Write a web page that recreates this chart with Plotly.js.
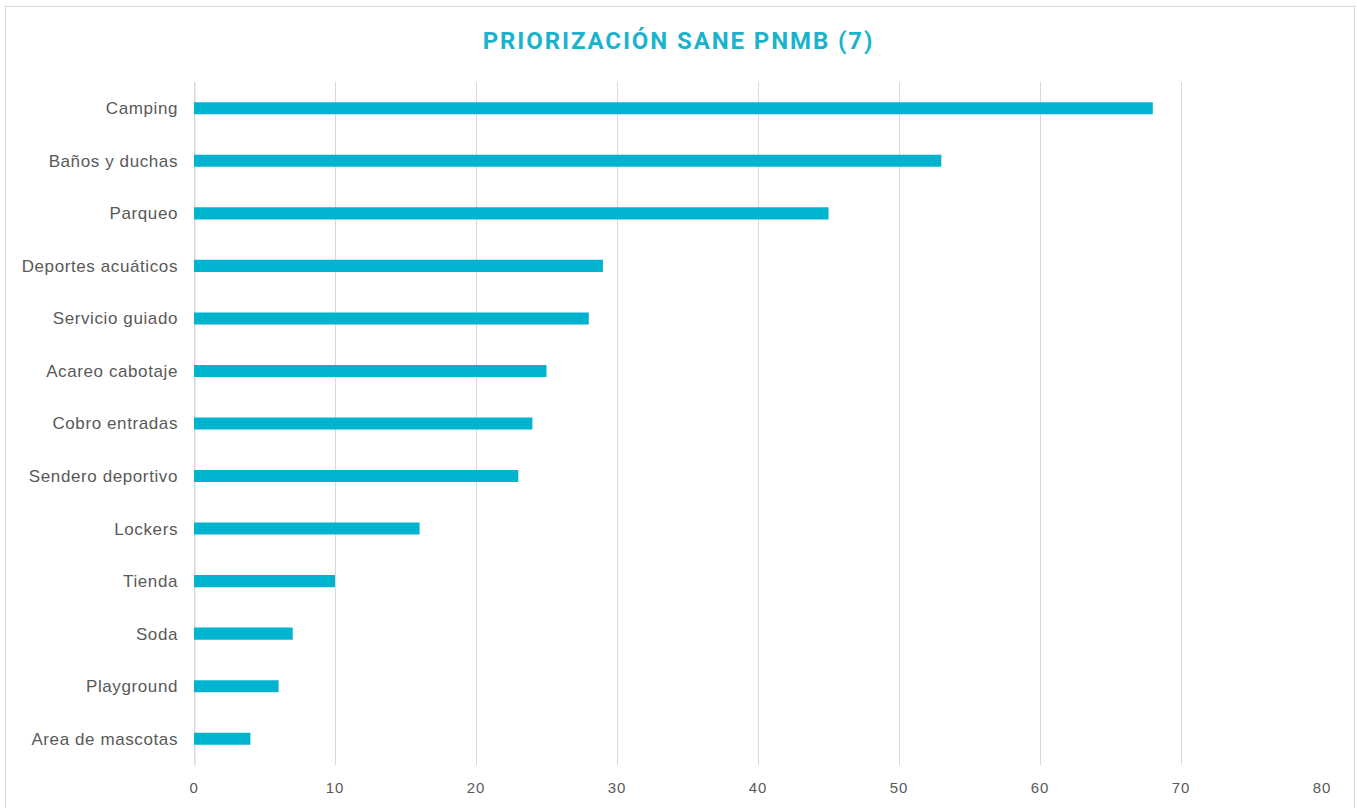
<!DOCTYPE html>
<html>
<head>
<meta charset="utf-8">
<script src="https://cdn.plot.ly/plotly-3.0.1.min.js"></script>
<style>
  html, body { margin: 0; padding: 0; background: #fff; }
  #chart { width: 1357px; height: 808px; }
  #frame { position: absolute; left: 5px; top: 6px; width: 1348px; height: 820px; border: 1px solid #d9d9d9; pointer-events: none; }
  .gtitle { letter-spacing: 1.9px; }
  .ytick text { letter-spacing: 0.6px; }
  .xtick text { letter-spacing: 0.8px; }
</style>
</head>
<body>
<div id="chart"></div>
<div id="frame"></div>
<script>
const categories = [
  "Camping", "Baños y duchas", "Parqueo", "Deportes acuáticos", "Servicio guiado",
  "Acareo cabotaje", "Cobro entradas", "Sendero deportivo", "Lockers", "Tienda",
  "Soda", "Playground", "Area de mascotas"
];
const values = [68, 53, 45, 29, 28, 25, 24, 23, 16, 10, 7, 6, 4];
const xTicks = [0, 10, 20, 30, 40, 50, 60, 70, 80];

const trace = {
  type: "bar",
  orientation: "h",
  x: values,
  y: categories,
  marker: { color: "#00B4CF" },
  hoverinfo: "x+y"
};

const layout = {
  width: 1357,
  height: 808,
  paper_bgcolor: "#ffffff",
  plot_bgcolor: "#ffffff",
  margin: { l: 194, r: 35, t: 82, b: 43 },
  bargap: 0.77,
  showlegend: false,
  title: {
    text: "<b>PRIORIZACIÓN SANE PNMB (7)</b>",
    x: 0.5, xanchor: "center",
    y: 0.95, yanchor: "middle",
    font: { family: "Liberation Sans Narrow, Roboto, Arial Narrow, sans-serif", size: 24, color: "#1AB3CE" }
  },
  xaxis: {
    range: [0, 80],
    tickvals: xTicks,
    ticktext: xTicks.map(String),
    showgrid: true,
    gridcolor: "#d9d9d9",
    gridwidth: 1,
    zeroline: false,
    showline: false,
    ticks: "",
    ticklabelstandoff: 12,
    tickfont: { family: "Liberation Sans, Arial, sans-serif", size: 15, color: "#595959" },
    fixedrange: true
  },
  yaxis: {
    type: "category",
    autorange: "reversed",
    showgrid: false,
    zeroline: false,
    showline: false,
    ticks: "",
    ticklabelstandoff: 15,
    tickfont: { family: "Liberation Sans, Arial, sans-serif", size: 17, color: "#595959" },
    fixedrange: true
  },
  shapes: [
    { type: "line", xref: "x", yref: "paper", x0: 0, x1: 0, y0: 0, y1: 1,
      line: { color: "#d9d9d9", width: 3 }, layer: "below" }
  ]
};

Plotly.newPlot("chart", [trace], layout, { displayModeBar: false, staticPlot: true });
</script>
</body>
</html>
